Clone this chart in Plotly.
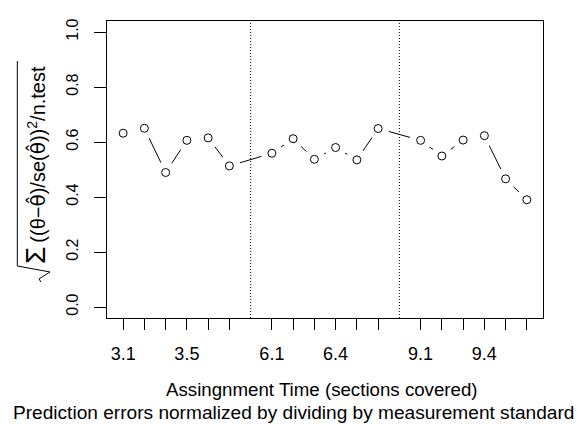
import plotly.graph_objects as go

# ---- data ----
x_positions = [1, 2, 3, 4, 5, 6, 8, 9, 10, 11, 12, 13, 15, 16, 17, 18, 19, 20]
rmse_values = [0.632, 0.650, 0.489, 0.606, 0.615, 0.513,
               0.559, 0.612, 0.537, 0.580, 0.535, 0.649,
               0.606, 0.549, 0.607, 0.623, 0.466, 0.390]
tick_labels = ["3.1", "", "", "3.5", "", "",
               "6.1", "", "", "6.4", "", "",
               "9.1", "", "", "9.4", "", ""]
section_breaks = [7, 14]
y_ticks = [0.0, 0.2, 0.4, 0.6, 0.8, 1.0]
x_title = "Assingnment Time (sections covered)"
x_subtitle = "Prediction errors normalized by dividing by measurement standard errors"

FONT = "Liberation Sans, Arial, Helvetica, sans-serif"
W, H = 583, 424
ML, MR, MT, MB = 99, 48, 13, 114
PW, PH = W - ML - MR, H - MT - MB


def px(xp):
    return (xp - ML) / PW


def py(yp):
    return (H - MB - yp) / PH


fig = go.Figure()

fig.add_trace(go.Scatter(
    x=x_positions, y=rmse_values, mode="lines",
    line=dict(color="black", width=1), hoverinfo="skip", showlegend=False))
fig.add_trace(go.Scatter(
    x=x_positions, y=rmse_values, mode="markers",
    marker=dict(symbol="circle", size=22, color="white", line=dict(width=0)),
    hoverinfo="skip", showlegend=False))
fig.add_trace(go.Scatter(
    x=x_positions, y=rmse_values, mode="markers",
    marker=dict(symbol="circle-open", size=8, color="black", line=dict(width=1)),
    showlegend=False))

shapes = []
for b in section_breaks:
    shapes.append(dict(type="line", xref="x", yref="paper", x0=b, x1=b, y0=0, y1=1,
                       line=dict(color="black", width=1, dash="1px,2px"), layer="above"))
# radical sign drawn around the rotated y-axis label
rad = [(9.3, 53), (9.3, 258), (42, 264), (31, 271), (33, 274)]
path = "M " + " L ".join(f"{px(a):.4f},{py(b):.4f}" for a, b in rad)
shapes.append(dict(type="path", xref="paper", yref="paper", path=path,
                   line=dict(color="black", width=1)))

TH = "<span style='font-family:DejaVu Sans'>θ\u0302</span>"
ylabel = ("<span style='font-size:28px'>Σ</span>\u2009((θ−" + TH + ")/se(" + TH + "))"
          "<sup>2</sup>/n.test")

annotations = [
    dict(text=ylabel, xref="paper", yref="paper", x=px(27), y=py(157),
         xanchor="center", yanchor="middle", textangle=-90, showarrow=False,
         font=dict(family=FONT, size=20, color="black")),
    dict(text=x_title, xref="paper", yref="paper", x=px(313.5), y=py(368.5),
         xanchor="center", yanchor="top", showarrow=False,
         font=dict(family=FONT, size=18.7, color="black")),
    dict(text=x_subtitle, xref="paper", yref="paper", x=px(313.5), y=py(391.5),
         xanchor="center", yanchor="top", showarrow=False,
         font=dict(family=FONT, size=19.1, color="black")),
]

fig.update_layout(
    width=W, height=H,
    margin=dict(l=ML, r=MR, t=MT, b=MB, autoexpand=False),
    paper_bgcolor="white", plot_bgcolor="white",
    font=dict(family=FONT, color="black"),
    shapes=shapes, annotations=annotations,
    showlegend=False,
)
fig.update_xaxes(
    range=[0.24, 20.76], tickmode="array", tickvals=x_positions, ticktext=tick_labels,
    ticks="outside", ticklen=11, tickwidth=1, tickcolor="black",
    showline=True, linecolor="black", linewidth=1, mirror=True,
    showgrid=False, zeroline=False, tickfont=dict(size=18, family=FONT),
    ticklabelstandoff=8, automargin=False,
)
fig.update_yaxes(
    range=[-0.04, 1.04], tickmode="array", tickvals=y_ticks,
    ticktext=[f"{v:.1f}" for v in y_ticks], tickangle=-90,
    ticks="outside", ticklen=12, tickwidth=1, tickcolor="black",
    showline=True, linecolor="black", linewidth=1, mirror=True,
    showgrid=False, zeroline=False, tickfont=dict(size=16, family=FONT),
    ticklabelstandoff=10, automargin=False,
)

fig.write_html("out.html")
